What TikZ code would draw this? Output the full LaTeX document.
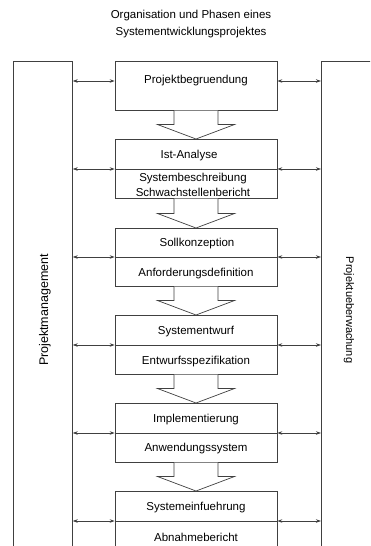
\documentclass[tikz,border=0pt]{standalone}
\usepackage{fontspec}
\setmainfont{Liberation Sans}
\usetikzlibrary{arrows.meta}

\begin{document}
\begin{tikzpicture}[x=1pt, y=-1pt,
    every node/.style={font=\fontsize{11.5}{15}\selectfont},
    line/.style={black!75, line width=0.7pt},
    phasebox/.style={draw=black!75, line width=0.7pt, minimum width=162pt,
        anchor=north, inner sep=0pt},
    sidebar/.style={draw=black!75, line width=0.7pt, minimum width=59pt,
        minimum height=520pt, anchor=north west, inner sep=0pt},
    link/.style={line, {Stealth[length=5pt,width=3.5pt]}-{Stealth[length=5pt,width=3.5pt]}},
    bigarrow/.style={line, fill=white}]
    \useasboundingbox (0,0) rectangle (370,546);
    \clip (0,0) rectangle (370,546);

    % title
    \node[align=center, font=\fontsize{11.5}{17}\selectfont] (title)
        at (191,24.5) {Organisation und Phasen eines\\Systementwicklungsprojektes};

    % side bars
    \node[sidebar] (pm) at (13,61) {};
    \node[sidebar, minimum width=60pt] (pu) at (321,61) {};
    \node[rotate=90, font=\fontsize{12.5}{15}\selectfont] (pmlabel)
        at (45,310) {Projektmanagement};
    \node[rotate=-90, font=\fontsize{11}{15}\selectfont] (pulabel)
        at (349,310) {Projektueberwachung};

    % phases
    \node[phasebox, minimum height=49pt] (b1) at (196,61) {};
    \node[phasebox, minimum height=59pt] (b2) at (196,139) {};
    \node[phasebox, minimum height=58pt] (b3) at (196,228) {};
    \node[phasebox, minimum height=59pt] (b4) at (196,315) {};
    \node[phasebox, minimum height=59pt] (b5) at (196,403) {};
    \node[phasebox, minimum height=70pt] (b6) at (196,491) {};

    \coordinate (a1) at (196,81);
    \coordinate (a2) at (196,169);
    \coordinate (a3) at (196,257);
    \coordinate (a4) at (196,345);
    \coordinate (a5) at (196,433);
    \coordinate (a6) at (196,521);

    \node (t1) at (196,81) {Projektbegruendung};
    \node (t2) at (189,156) {Ist-Analyse};
    \node[align=center] (d2) at (193,184.5) {Systembeschreibung\\Schwachstellenbericht};
    \node (t3) at (197,244) {Sollkonzeption};
    \node (d3) at (196,274) {Anforderungsdefinition};
    \node (t4) at (196,332) {Systementwurf};
    \node (d4) at (196,362) {Entwurfsspezifikation};
    \node (t5) at (196,420) {Implementierung};
    \node (d5) at (196,449) {Anwendungssystem};
    \node (t6) at (196,508) {Systemeinfuehrung};
    \node (d6) at (196,537) {Abnahmebericht};

    % flow between phases
    \foreach \a/\b in {b1/b2, b2/b3, b3/b4, b4/b5, b5/b6}
        \draw[bigarrow] ([xshift=-22pt]\a.south)
            -- ([xshift=-22pt, yshift=14.5pt]\b.north)
            -- ([xshift=-38.5pt, yshift=14.5pt]\b.north)
            -- (\b.north)
            -- ([xshift=38.5pt, yshift=14.5pt]\b.north)
            -- ([xshift=22pt, yshift=14.5pt]\b.north)
            -- ([xshift=22pt]\a.south);

    % dividers and links to the side bars
    \foreach \k in {2,...,6}
        \draw[line] (a\k -| b\k.west) -- (a\k -| b\k.east);
    \foreach \k in {1,...,6} {
        \draw[link] (a\k -| pm.east) -- (a\k -| b\k.west);
        \draw[link] (a\k -| b\k.east) -- (a\k -| pu.west);
    }
\end{tikzpicture}
\end{document}
